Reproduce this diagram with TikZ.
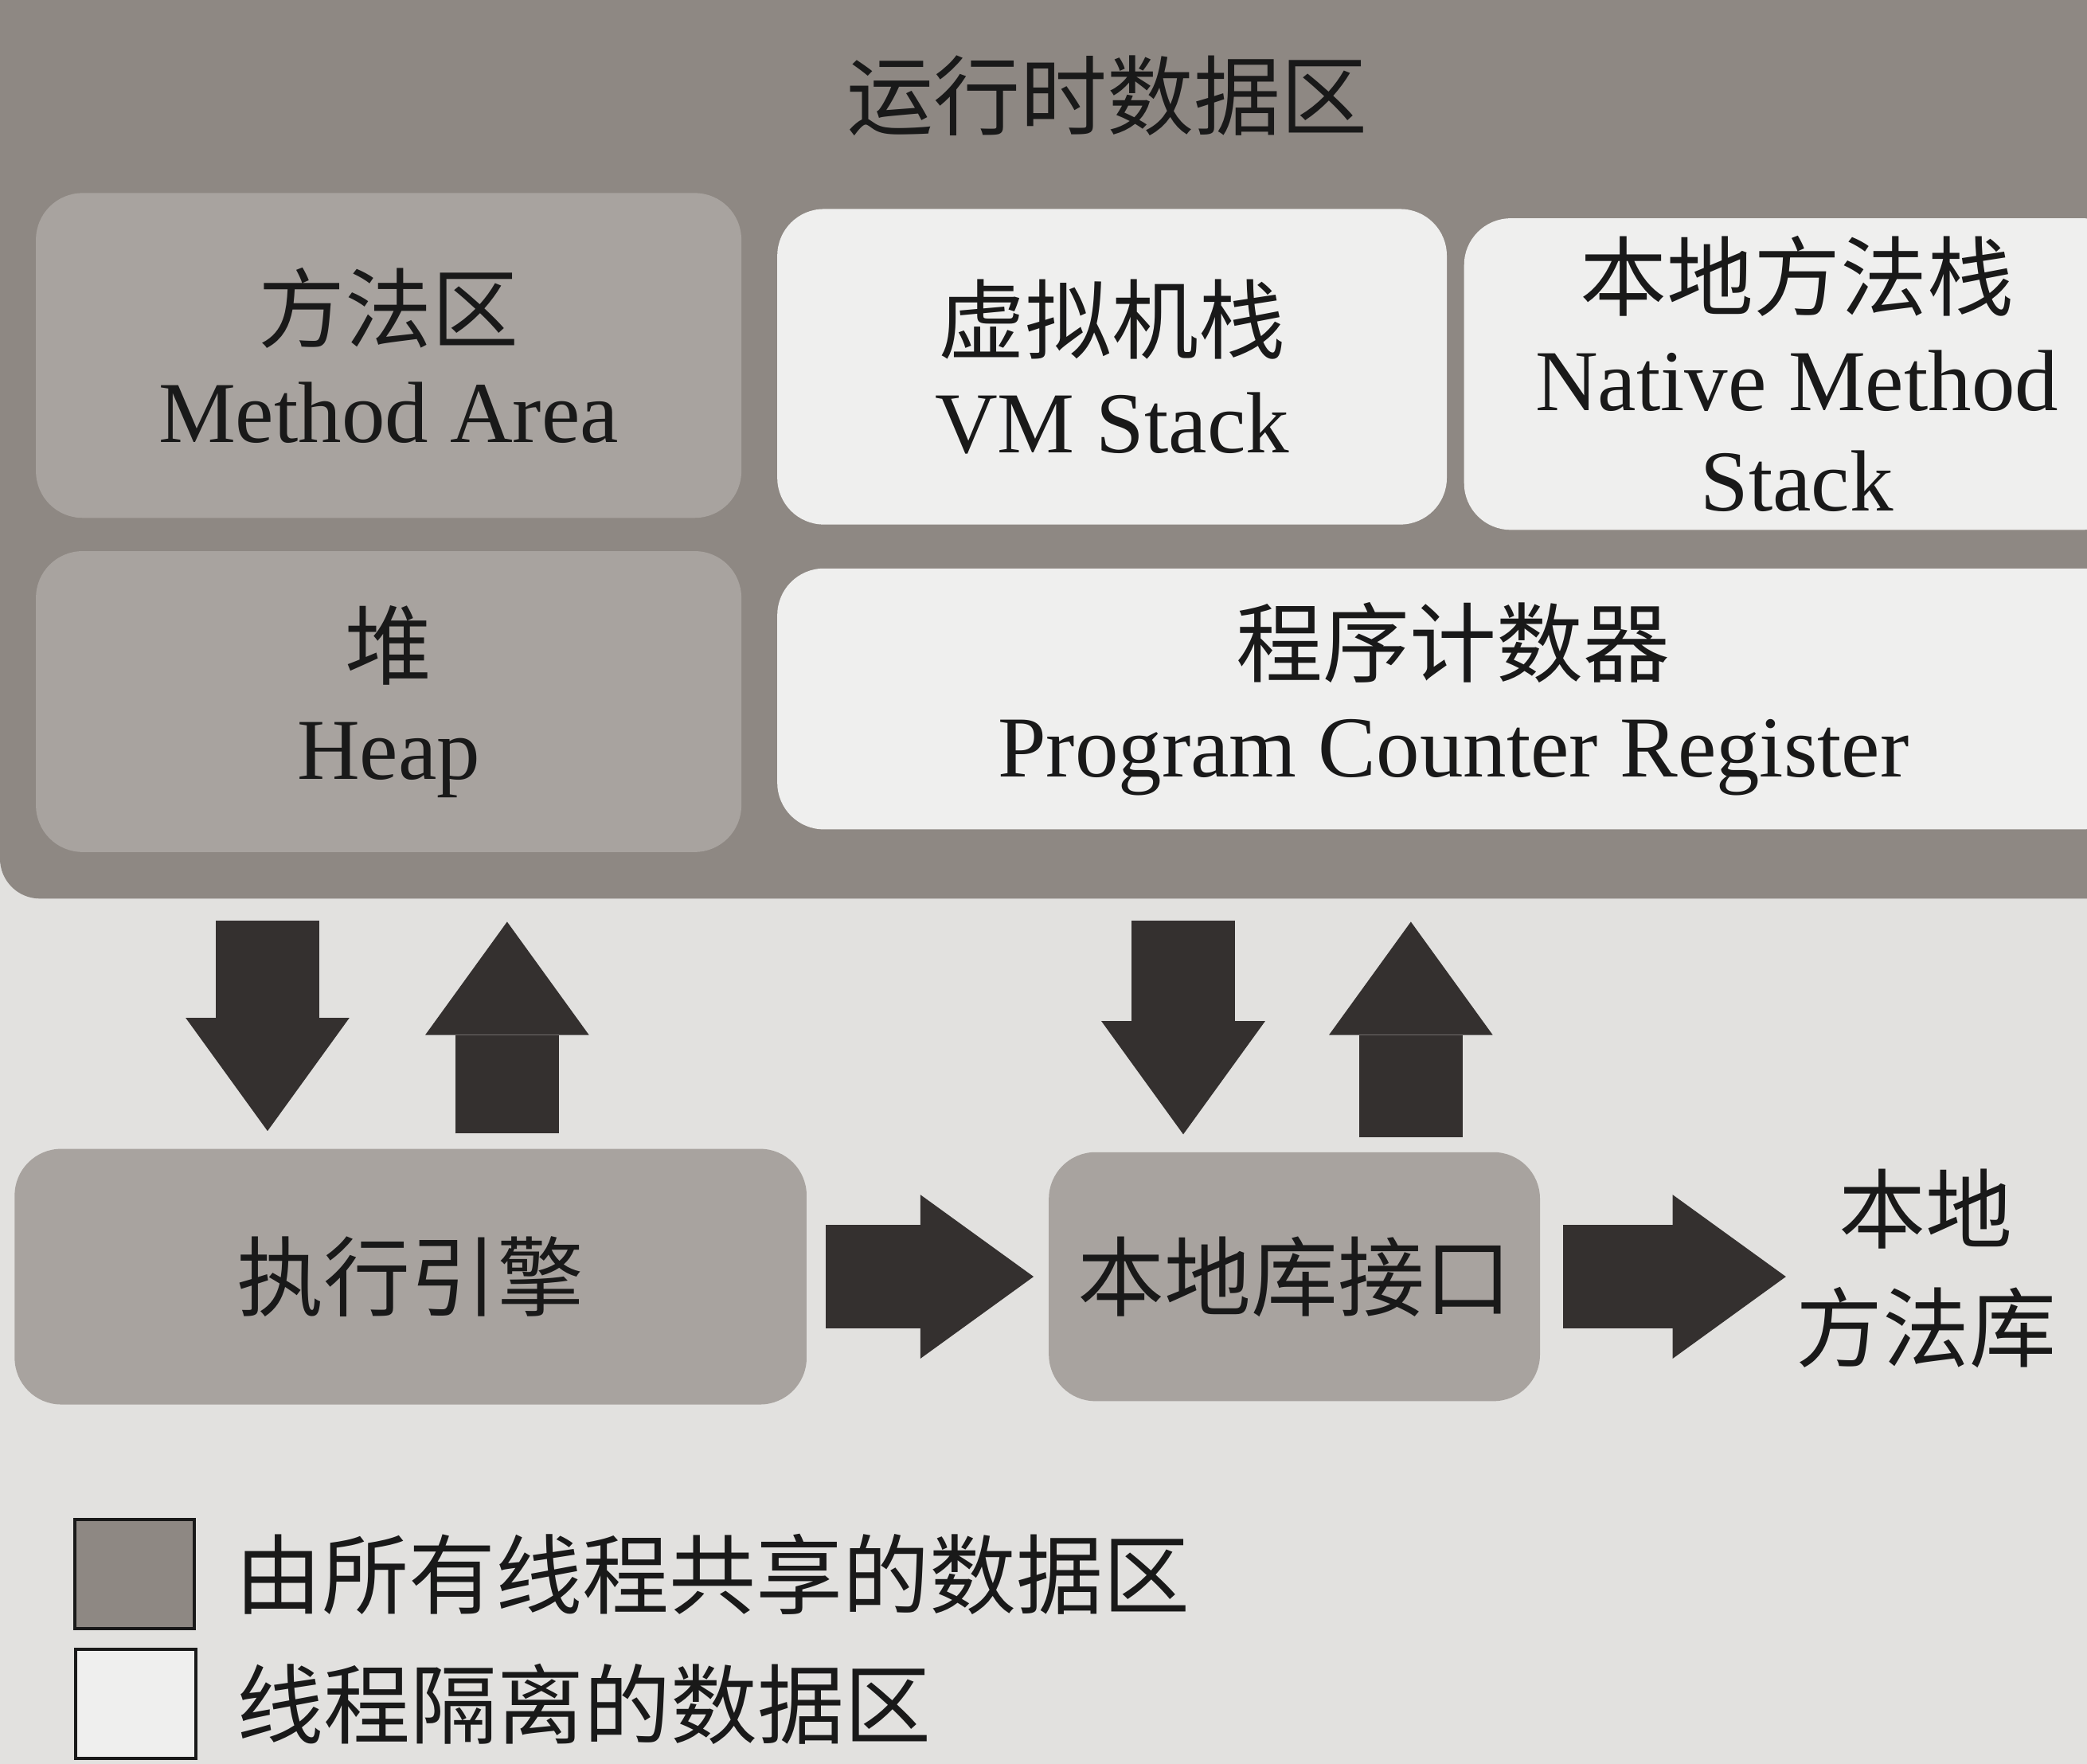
\documentclass[tikz,border=0pt]{standalone}
\usepackage{fontspec}
\setmainfont{Liberation Serif}
\newfontfamily\cjk{Noto Sans CJK SC}
\usetikzlibrary{arrows.meta,positioning}

\newdimen\pu \pu=0.016716cm
\newcommand{\zh}[1]{{\cjk #1}}

\definecolor{paper}{RGB}{226,225,223}
\definecolor{rtgray}{RGB}{142,136,131}
\definecolor{sharedgray}{RGB}{168,163,159}
\definecolor{privwhite}{RGB}{239,239,238}
\definecolor{arrowgray}{RGB}{52,48,47}
\definecolor{inkgray}{RGB}{25,25,25}

\tikzset{
  area/.style={rounded corners=35\pu, inner sep=0pt, align=center},
  shared/.style={area, fill=sharedgray},
  private/.style={area, fill=privwhite},
  bigarrow/.style={draw=arrowgray, line width=78\pu,
    -{Triangle[width=2.056cm,length=1.421cm,line width=0pt]}},
  legbox/.style={draw=inkgray, line width=2.5\pu, minimum width=90\pu,
    minimum height=82\pu, inner sep=0pt}
}

\begin{document}
\begin{tikzpicture}[x=0.016716cm, y=-0.016716cm,
  font=\fontsize{31}{36}\selectfont, every node/.style={text=inkgray}]

% page
\useasboundingbox (0,0) rectangle (1568,1325);
\fill[paper] (0,0) rectangle (1568,1325);
\clip (0,0) rectangle (1568,1325);

% runtime data area
\node[fill=rtgray, rounded corners=30\pu, minimum width=1640\pu,
  minimum height=715\pu, inner sep=0pt] (rt) at (820,317.5) {};
\node (title) at (832,72) {\zh{运行时数据区}};

% areas
\node[shared, minimum width=530\pu, minimum height=244\pu] (method) at (292,267)
  {\zh{方法区}\\Method Area};
\node[private, minimum width=503\pu, minimum height=237\pu] (vmstack) at (835.5,275.5)
  {\zh{虚拟机栈}\\VM Stack};
\node[private, minimum width=500\pu, minimum height=234\pu] (nstack) at (1350,281)
  {\zh{本地方法栈}\\Native Method\\Stack};
\node[shared, minimum width=530\pu, minimum height=226\pu] (heap) at (292,527)
  {\zh{堆}\\Heap};
\node[private, minimum width=1016\pu, minimum height=196\pu] (pc) at (1092,525)
  {\zh{程序计数器}\\Program Counter Register};

% engine and interface
\node[shared, minimum width=595\pu, minimum height=192\pu] (exec) at (308.5,959)
  {\zh{执行引擎}};
\node[shared, minimum width=369\pu, minimum height=187\pu] (lib) at (972.5,959)
  {\zh{本地库接口}};
\node[align=center] (nlib) at (1447,953) {\zh{本地}\\[6.5pt]\zh{方法库}};

% arrows
\coordinate (a1) at (201,0);
\coordinate (a2) at (381,0);
\coordinate (a3) at (889,0);
\coordinate (a4) at (1060,0);
\draw[bigarrow, shorten <=0.267cm, shorten >=0.217cm] (a1 |- rt.south) -- (a1 |- exec.north);
\draw[bigarrow, shorten <=0.184cm, shorten >=0.284cm] (a2 |- exec.north) -- (a2 |- rt.south);
\draw[bigarrow, shorten <=0.267cm, shorten >=0.217cm] (a3 |- rt.south) -- (a3 |- lib.north);
\draw[bigarrow, shorten <=0.184cm, shorten >=0.284cm] (a4 |- lib.north) -- (a4 |- rt.south);
\draw[bigarrow, shorten <=0.234cm, shorten >=0.184cm] (exec) -- (lib);
\draw[bigarrow, shorten <=0.284cm] (lib.east) -- (lib.east -| nlib.west);

% legend
\node[legbox, fill=rtgray] (keyshared) at (101,1182.5) {};
\node[right=0.37cm of keyshared] (keysharedtxt) {\zh{由所有线程共享的数据区}};
\node[legbox, fill=privwhite] (keyprivate) at (102,1280) {};
\node[right=0.37cm of keyprivate] (keyprivatetxt) {\zh{线程隔离的数据区}};

\end{tikzpicture}
\end{document}
